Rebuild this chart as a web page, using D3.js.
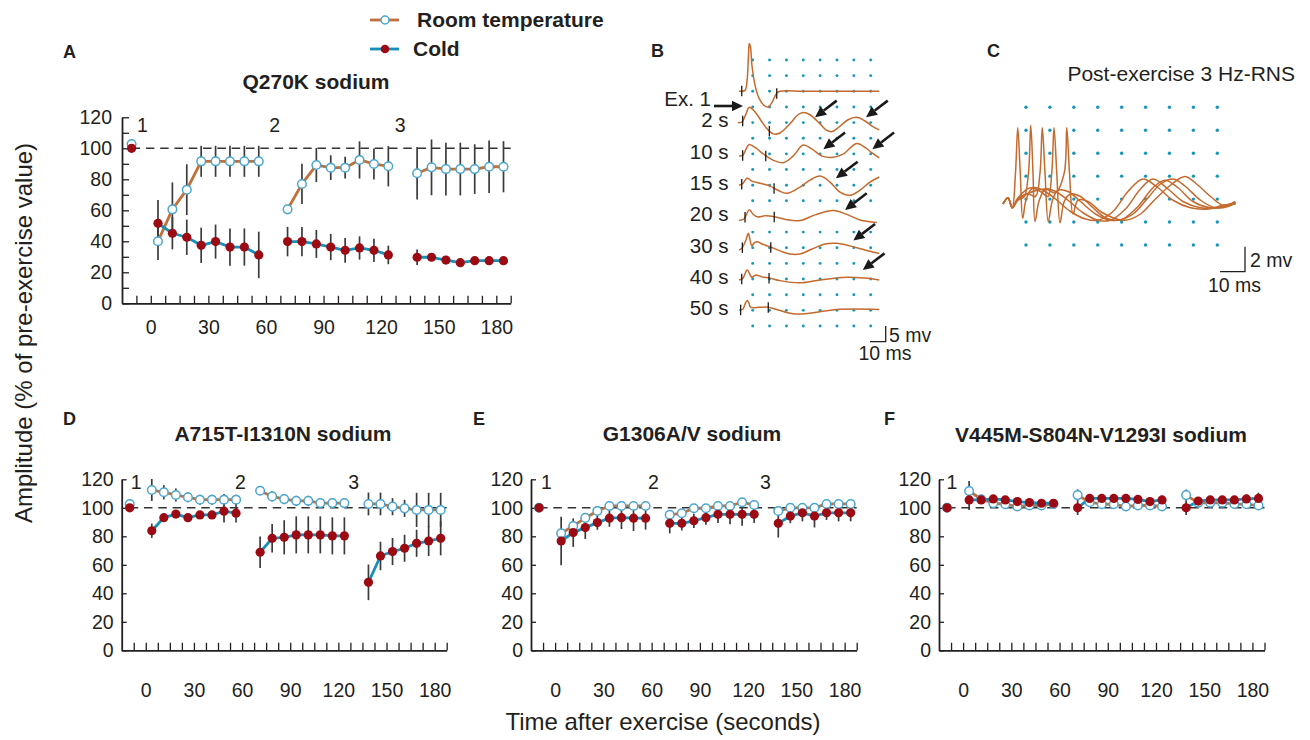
<!DOCTYPE html>
<html>
<head>
<meta charset="utf-8">
<script src="https://cdn.jsdelivr.net/npm/d3@7"></script>
<style>
  body { margin: 0; background: #fff; }
  svg { display: block; }
</style>
</head>
<body>
<svg id="fig" width="1310" height="740"></svg>
<script>
// ---------- time axis (seconds after exercise) ----------
const preTime = -10;
const segTimes1 = [3.75, 11.25, 18.75, 26.25, 33.75, 41.25, 48.75, 56.25];
const segTimes2 = [71.25, 78.75, 86.25, 93.75, 101.25, 108.75, 116.25, 123.75];
const segTimes3 = [138.75, 146.25, 153.75, 161.25, 168.75, 176.25, 183.75];
const xTickLabels = [0, 30, 60, 90, 120, 150, 180];
const xMinorTicks = [-7.5, 0, 7.5, 15, 22.5, 30, 37.5, 45, 52.5, 60, 67.5, 75, 82.5, 90, 97.5,
                     105, 112.5, 120, 127.5, 135, 142.5, 150, 157.5, 165, 172.5, 180, 187.5];
const yTickLabels = [0, 20, 40, 60, 80, 100, 120];
const segmentNames = ["1", "2", "3"];

// ---------- amplitude (% of pre-exercise): pre, exercise 1, 2, 3 ----------
const q270kRoomMean = [102.8, 40.0, 60.6, 73.3, 91.6, 91.6, 91.6, 91.6, 91.6, 60.6, 77.0, 89.2, 87.5, 87.5, 92.5, 89.9, 88.4, 83.9, 87.7, 86.6, 86.6, 86.6, 88.1, 88.1];
const q270kRoomSD   = [0, 12, 17.4, 16.4, 10, 10, 10, 10, 10, 1, 13, 11, 8, 7, 12, 10, 13, 17, 18, 17, 17, 16, 17, 16.5];
const q270kColdMean = [100, 51.6, 45.2, 42.6, 37.4, 39.8, 36.3, 36.3, 31.2, 39.8, 39.8, 38.3, 36.3, 34.2, 35.7, 34.2, 31.2, 29.7, 29.7, 27.9, 26.2, 27.5, 27.5, 27.5];
const q270kColdSD   = [0, 15, 10.4, 11.4, 11.4, 11, 12, 12, 15, 9.5, 9.5, 9, 8.5, 8, 7.5, 7.5, 6, 5, 1, 1, 1, 1, 1, 1];

const a715tRoomMean = [102.7, 112.5, 110.9, 109.0, 107.4, 105.7, 105.7, 105.7, 105.7, 112.0, 108.0, 106.1, 104.9, 104.9, 103.3, 103.3, 103.3, 102.7, 102.7, 100.8, 99.6, 98.5, 98.5, 98.5];
const a715tRoomSD   = [0, 7.7, 5, 4.5, 3.5, 3.5, 3.5, 4, 3.5, 3, 3.5, 3.5, 3.5, 3.5, 3.5, 3.5, 3.5, 8, 8, 6, 6, 12, 12, 12];
const a715tColdMean = [100, 83.9, 93.1, 95.6, 93.1, 95.0, 95.0, 97.6, 96.2, 68.8, 78.6, 79.3, 81.0, 81.0, 81.0, 80.3, 80.3, 47.7, 66.2, 69.3, 71.6, 75.1, 76.7, 78.6];
const a715tColdSD   = [0, 5, 3, 2.5, 2, 2.5, 2.5, 8, 6.5, 11, 10, 12, 13, 13, 13, 13, 13, 12.5, 10, 9.5, 9.5, 9.5, 10.5, 12];

const g1306RoomMean = [100, 82.1, 87.2, 92.9, 97.8, 101.3, 101.3, 101.3, 101.3, 95.1, 96.2, 99.7, 99.7, 101.3, 101.3, 103.9, 102.0, 97.8, 100.0, 100.0, 100.0, 102.7, 102.7, 102.7];
const g1306RoomSD   = [0, 3, 3, 3, 3, 2, 2, 2, 2, 3, 3, 2, 2, 2, 2, 2, 2, 2, 2, 2, 2, 2, 2, 2];
const g1306ColdMean = [100, 76.7, 82.6, 86.1, 89.6, 92.7, 93.1, 92.7, 92.7, 89.1, 89.1, 90.9, 93.1, 95.4, 95.4, 95.4, 95.4, 89.1, 94.2, 96.5, 94.2, 96.5, 96.5, 96.5];
const g1306ColdSD   = [0, 17, 10, 8, 5, 6, 8, 9, 8, 7, 5, 5, 5, 6, 7, 8, 6, 10, 5, 6, 8, 5, 6, 6];

const v445mRoomMean = [100, 111.8, 106.0, 103.2, 102.5, 100.9, 101.6, 101.6, 102.7, 108.9, 103.9, 102.5, 102.5, 100.9, 101.6, 101.6, 100.9, 108.9, 103.5, 103.5, 103.5, 102.7, 102.5, 101.6];
const v445mRoomSD   = [0, 7, 2, 2, 2, 2, 2, 2, 2, 4, 2, 2, 2, 2, 2, 2, 2, 4, 2, 2, 2, 2, 2, 2];
const v445mColdMean = [100, 105.5, 105.5, 106.2, 105.5, 104.4, 103.7, 103.2, 103.2, 100.0, 106.6, 106.6, 106.6, 106.6, 105.9, 104.4, 105.5, 100.0, 104.7, 105.5, 105.5, 105.5, 106.2, 106.6];
const v445mColdSD   = [0, 7, 2, 2, 2, 2, 2, 2, 2, 5, 2, 2, 2, 2, 2, 2, 2, 5, 2, 2, 2, 2, 3, 4];

// ---------- panel B: CMAP traces after exercise, [ms, mV] ----------
const bTraceLabels = ["Ex. 1", "2 s", "10 s", "15 s", "20 s", "30 s", "40 s", "50 s"];
const traceEx1 = [[-0.6,0],[3.2,0.3],[4.5,3.5],[5.4,11.5],[5.9,15.2],[6.7,14.0],[7.6,8.3],[9.6,1.9],[12.1,-2.2],[15.3,-4.5],[18.0,-5.0],[20.4,-3.5],[23.4,-0.6],[25.5,0],[40,0],[60,0],[88.7,0]];
const trace2s  = [[-1.3,0],[1.3,0.2],[3.8,2.8],[5.9,4.9],[9.6,3.4],[14,0.2],[17.8,-2.3],[21.2,-3.6],[25.5,-3.3],[31.8,-0.4],[36.9,2.5],[40.3,3.2],[44.6,2.5],[51,-0.4],[54.8,-2.3],[58.4,-2.9],[62.4,-1.7],[68.8,0.9],[74.3,1.7],[79.6,0.5],[84.1,-1.1],[88.7,-2.3]];
const trace10s = [[-0.6,-0.7],[1.9,-0.4],[3.8,1.5],[5.9,3.0],[10.2,1.8],[15.9,-0.4],[21,-2.0],[27.6,-2.8],[33.8,-0.7],[40.3,2.8],[45.9,1.5],[52.2,-0.7],[59.2,-1.1],[65.6,-0.1],[74.3,3.3],[80.3,1.8],[84.1,0.3],[88.7,-1.3]];
const trace15s = [[-0.6,0],[1.9,0.6],[4.6,2.3],[7.6,1.3],[12.7,0.6],[19.1,-0.3],[24.2,-1.6],[29.7,-2.6],[38.2,-0.6],[44.6,1.6],[51,2.9],[57.3,1],[63.7,-2.2],[70.1,-3.2],[76.4,-1.6],[82.8,1],[88.7,2.6]];
const trace20s = [[-0.6,-1.3],[2.5,-0.8],[5.9,2.1],[8.3,0.8],[10.8,-0.1],[15.9,0.2],[21.2,0],[28.7,-0.9],[38.2,-1.3],[47.8,0.5],[59.4,1.9],[68.8,0.5],[76.4,-1.1],[87.1,-1.9]];
const trace30s = [[-0.6,-0.7],[1.3,-0.1],[3.8,2.5],[5.3,4.6],[6.4,2.5],[7.5,0.6],[8.9,1.5],[11,1.9],[14,1.2],[19.1,0.3],[25.5,-1.0],[31.8,-2.0],[38.2,-2.0],[45.9,-0.4],[54.1,1.2],[61.6,1.4],[70.1,0.6],[79.6,-0.7],[88.7,-1.8]];
const trace40s = [[-0.6,-0.3],[1.9,0.3],[4.6,2.9],[7.5,0.6],[10,1.3],[14,0.7],[19.1,0.3],[25.5,-0.5],[38.2,-1.2],[51,-0.3],[68,0.6],[79.6,0.3],[88.7,-0.3]];
const trace50s = [[-0.6,0.1],[1.9,0.4],[3.2,2.0],[4.6,3.1],[5.7,2.3],[6.7,1.0],[12.7,1.0],[18,1.0],[22.3,0.4],[31.8,-0.9],[38.2,-1.2],[47.8,-0.7],[61.6,0.3],[88.7,0.3]];
const bTraces = [traceEx1, trace2s, trace10s, trace15s, trace20s, trace30s, trace40s, trace50s];
// onset / offset cursors (ms)
const bCursors = [[1.1, 23.4], [1.7, 18.7], [1.7, 16.4], [1.1, 21.7], [3.2, 21.8], [1.5, 19.6], [1.1, 18.5], [0.4, 18]];
// late components pointed out by arrows: trace index, ms, mV
const bArrowTrace = [1, 1, 2, 2, 3, 4, 5, 6];
const bArrowMs    = [47.8, 80.3, 53.1, 84.3, 61.1, 66.9, 72.2, 78.2];
const bArrowMv    = [1.7, 1.7, 1.5, 1.5, 2.2, 2.1, 2.3, 2.9];

// ---------- panel C: superimposed responses during 3 Hz RNS, [ms, mV] ----------
const rnsTrace1 = [[0,0],[2,0.5],[3.7,-0.3],[5,2.5],[5.9,6.1],[6.9,2.5],[7.9,-1.15],[9.3,0.4],[12,1.3],[16,1.1],[21,0.4],[27,-0.6],[33,-1.2],[38,-1.3],[44,-0.6],[50,1.0],[56,2.0],[62,1.3],[68,0.3],[75,-0.3],[82,-0.4],[88,-0.1],[93,0]];
const rnsTrace2 = [[0,0],[2,0.5],[3.7,-0.3],[6,0.3],[8.5,0.6],[10.2,2.5],[11.1,6.3],[12,2.5],[12.8,-1.4],[14.5,0.3],[17,1.2],[21,1.0],[26,0.3],[32,-0.7],[38,-1.3],[43,-1.3],[49,-0.4],[55,1.2],[60,2.0],[66,1.2],[72,0.2],[79,-0.3],[86,-0.3],[93,0.1]];
const rnsTrace3 = [[0,0],[2,0.5],[3.7,-0.3],[6,0.4],[10,0.8],[13,0.6],[14.8,2.5],[15.7,6.1],[16.8,2.5],[18.1,-1.4],[19.8,0.3],[22,1.1],[26,1.0],[31,0.2],[37,-0.8],[43,-1.3],[48,-1.2],[54,-0.2],[60,1.3],[64.8,1.9],[70,1.3],[76,0.2],[83,-0.3],[89,-0.2],[93,0.1]];
const rnsTrace4 = [[0,0],[2,0.5],[3.7,-0.3],[6,0.5],[11,1.3],[15,1.0],[18,0.6],[19.5,2.5],[20.4,6.1],[21.5,2.5],[22.8,-1.5],[24.5,0.2],[27,0.8],[31,0.6],[36,-0.3],[41,-1.1],[46,-1.3],[52,-0.8],[58,0.5],[63,1.6],[68.1,2.0],[73,1.4],[79,0.3],[85,-0.3],[90,-0.2],[93,0.1]];
const rnsTrace5 = [[0,0],[2,0.5],[3.7,-0.3],[6,0.4],[12,1.0],[17,1.2],[21,0.9],[24.5,2.5],[25.5,6.1],[26.6,2.5],[28,-0.8],[30,0.3],[34,0.2],[39,-0.6],[44,-1.1],[49,-1.3],[55,-0.8],[61,0.4],[67,1.5],[72.8,2.2],[78,1.5],[83,0.6],[88,-0.1],[93,0.2]];
const rnsTraces = [rnsTrace1, rnsTrace2, rnsTrace3, rnsTrace4, rnsTrace5];

// ---------- styling ----------
const FONT = '"Liberation Sans", Arial, Helvetica, sans-serif';
const INK = "#231f20";
const ROOM_LINE = "#c0703a";
const ROOM_MARK = "#4aa6cf";
const COLD_LINE = "#1690bb";
const COLD_MARK = "#9c0b13";
const ERR = "#3b3b3b";
const TRACE = "#c46a2d";
const GRID = "#1797b9";

const svg = d3.select("#fig").attr("font-family", FONT);

const allTimes = [preTime, ...segTimes1, ...segTimes2, ...segTimes3];
const segOf = [0, ...segTimes1.map(() => 1), ...segTimes2.map(() => 2), ...segTimes3.map(() => 3)];

function styleAxis(sel, fs) {
  sel.attr("font-family", FONT).attr("font-size", fs);
  sel.selectAll("text").attr("fill", INK);
  sel.selectAll(".tick line").attr("stroke", INK).attr("stroke-width", 1.3);
  sel.select(".domain").attr("stroke", INK).attr("stroke-width", 1.8);
}

function drawPanel(p) {
  const x = d3.scaleLinear().domain([-15, 187.5]).range([p.x0, p.x1]);
  const y = d3.scaleLinear().domain([0, 120]).range([p.yBase, p.yTop]);
  const g = svg.append("g");

  // axes
  g.append("g").attr("transform", `translate(0,${p.yBase})`)
    .call(d3.axisBottom(x).tickValues(xMinorTicks).tickSize(-p.xTickLen).tickSizeOuter(0).tickFormat(""))
    .call(s => styleAxis(s, 19));
  g.append("g").attr("transform", `translate(0,${p.yBase})`)
    .call(d3.axisBottom(x).tickValues(xTickLabels).tickSize(0).tickPadding(p.xPad))
    .call(s => { styleAxis(s, 19.5); s.select(".domain").remove(); });
  g.append("g").attr("transform", `translate(${p.x0},0)`)
    .call(d3.axisLeft(y).tickValues(p.yTicks).tickSize(-p.yTickLen).tickSizeOuter(0)
      .tickPadding(p.yPad).tickFormat(d => yTickLabels.includes(d) ? d : ""))
    .call(s => styleAxis(s, 19.5));

  // reference line at 100 %
  g.append("line")
    .attr("x1", x(preTime)).attr("x2", x(187.5))
    .attr("y1", y(100)).attr("y2", y(100))
    .attr("stroke", "#333").attr("stroke-width", 1.5).attr("stroke-dasharray", "8.5,5.8");

  const series = [
    { mean: p.roomMean, sd: p.roomSD, line: ROOM_LINE },
    { mean: p.coldMean, sd: p.coldSD, line: COLD_LINE }
  ];
  const pts = series.map(s => allTimes.map((t, i) => ({ t, v: s.mean[i], e: s.sd[i], seg: segOf[i] })));

  // error bars
  pts.forEach(arr => {
    g.append("g").selectAll("line").data(arr.filter(d => d.e > 0)).join("line")
      .attr("x1", d => x(d.t)).attr("x2", d => x(d.t))
      .attr("y1", d => y(d.v + d.e)).attr("y2", d => y(d.v - d.e))
      .attr("stroke", ERR).attr("stroke-width", 1.7);
  });

  // connecting lines within each exercise block
  const lineGen = d3.line().x(d => x(d.t)).y(d => y(d.v));
  pts.forEach((arr, k) => {
    [1, 2, 3].forEach(sg => {
      g.append("path").datum(arr.filter(d => d.seg === sg))
        .attr("d", lineGen).attr("fill", "none")
        .attr("stroke", series[k].line).attr("stroke-width", 2.8)
        .attr("stroke-linejoin", "round");
    });
  });

  // markers
  g.append("g").selectAll("circle").data(pts[0]).join("circle")
    .attr("cx", d => x(d.t)).attr("cy", d => y(d.v)).attr("r", 4.3)
    .attr("fill", "#fff").attr("stroke", ROOM_MARK).attr("stroke-width", 1.5);
  g.append("g").selectAll("circle").data(pts[1]).join("circle")
    .attr("cx", d => x(d.t)).attr("cy", d => y(d.v)).attr("r", 4.6)
    .attr("fill", COLD_MARK);

  // exercise block numbers
  g.append("g").selectAll("text").data(p.segLabels).join("text")
    .attr("x", d => x(d[1])).attr("y", d => y(d[2]))
    .attr("text-anchor", "middle").attr("font-size", 19.5).attr("fill", INK)
    .text(d => d[0]);

  // title and panel letter
  g.append("text").attr("x", p.titleX).attr("y", p.titleY).attr("text-anchor", "middle")
    .attr("font-size", 21).attr("font-weight", "bold").attr("fill", INK).text(p.title);
  g.append("text").attr("x", p.letterX).attr("y", p.letterY)
    .attr("font-size", 18).attr("font-weight", "bold").attr("fill", INK).text(p.letter);
}

drawPanel({
  x0: 122, x1: 510.7, yBase: 303.3, yTop: 117.3,
  xTickLen: 7.5, yTickLen: 7, xPad: 16.5, yPad: 10,
  yTicks: [0, 10, 20, 30, 40, 50, 60, 70, 80, 90, 100, 110, 120],
  roomMean: q270kRoomMean, roomSD: q270kRoomSD, coldMean: q270kColdMean, coldSD: q270kColdSD,
  segLabels: [[segmentNames[0], -4.3, 110.2], [segmentNames[1], 64.6, 110.6], [segmentNames[2], 129.9, 110.6]],
  title: "Q270K sodium", titleX: 316, titleY: 88.5, letter: "A", letterX: 63, letterY: 57.5
});
drawPanel({
  x0: 121.7, x1: 446.7, yBase: 650.3, yTop: 479.3,
  xTickLen: 7.5, yTickLen: 5, xPad: 33, yPad: 8,
  yTicks: [0, 20, 40, 60, 80, 100, 120],
  roomMean: a715tRoomMean, roomSD: a715tRoomSD, coldMean: a715tColdMean, coldSD: a715tColdSD,
  segLabels: [[segmentNames[0], -6, 113], [segmentNames[1], 59, 113], [segmentNames[2], 129.6, 113]],
  title: "A715T-I1310N sodium", titleX: 283, titleY: 441, letter: "D", letterX: 63, letterY: 425
});
drawPanel({
  x0: 531, x1: 856.7, yBase: 650.3, yTop: 479.3,
  xTickLen: 7.5, yTickLen: 5, xPad: 33, yPad: 8,
  yTicks: [0, 20, 40, 60, 80, 100, 120],
  roomMean: g1306RoomMean, roomSD: g1306RoomSD, coldMean: g1306ColdMean, coldSD: g1306ColdSD,
  segLabels: [[segmentNames[0], -5.4, 113], [segmentNames[1], 61.1, 113], [segmentNames[2], 130.8, 113]],
  title: "G1306A/V sodium", titleX: 692, titleY: 441, letter: "E", letterX: 473, letterY: 425
});
drawPanel({
  x0: 939, x1: 1264.5, yBase: 650.3, yTop: 479.3,
  xTickLen: 7.5, yTickLen: 5, xPad: 33, yPad: 8,
  yTicks: [0, 20, 40, 60, 80, 100, 120],
  roomMean: v445mRoomMean, roomSD: v445mRoomSD, coldMean: v445mColdMean, coldSD: v445mColdSD,
  segLabels: [[segmentNames[0], -6.9, 113]],
  title: "V445M-S804N-V1293I sodium", titleX: 1101, titleY: 442, letter: "F", letterX: 884, letterY: 425
});

// ---------- legend ----------
const legendRows = [
  { label: "Room temperature", line: ROOM_LINE, y: 20, tx: 417, room: true },
  { label: "Cold", line: COLD_LINE, y: 49, tx: 413, room: false }
];
const lg = svg.append("g");
legendRows.forEach(r => {
  lg.append("line").attr("x1", 370).attr("x2", 399).attr("y1", r.y).attr("y2", r.y)
    .attr("stroke", r.line).attr("stroke-width", 2.8);
  if (r.room) {
    lg.append("circle").attr("cx", 385).attr("cy", r.y).attr("r", 4)
      .attr("fill", "#fff").attr("stroke", ROOM_MARK).attr("stroke-width", 1.5);
  } else {
    lg.append("circle").attr("cx", 385).attr("cy", r.y).attr("r", 4.3).attr("fill", COLD_MARK);
  }
  lg.append("text").attr("x", r.tx).attr("y", r.y + 6.8).attr("font-size", 21)
    .attr("font-weight", "bold").attr("fill", INK).text(r.label);
});

// ---------- shared axis titles ----------
svg.append("text").attr("transform", "translate(31.5,333) rotate(-90)")
  .attr("text-anchor", "middle").attr("font-size", 24).attr("fill", INK)
  .text("Amplitude (% of pre-exercise value)");
svg.append("text").attr("x", 663).attr("y", 730).attr("text-anchor", "middle")
  .attr("font-size", 24).attr("fill", INK).text("Time after exercise (seconds)");

// ---------- panel B ----------
(function () {
  const g = svg.append("g");
  const xB = d3.scaleLinear().domain([0, 10]).range([740, 755.7]);   // 10 ms = 15.7 px
  const mvB = d3.scaleLinear().domain([0, 5]).range([0, 15.7]);      // 5 mV = 15.7 px
  const rowB = d3.scaleLinear().domain([0, 17]).range([60, 326]);
  const colB = d3.scaleLinear().domain([0, 7]).range([752.7, 870.7]);
  const rows = d3.range(18).filter(r => r !== 10);
  const cols = d3.range(8);
  g.append("g").selectAll("circle").data(d3.cross(rows, cols)).join("circle")
    .attr("cx", d => colB(d[1])).attr("cy", d => rowB(d[0])).attr("r", 1.45).attr("fill", GRID);

  const base = i => rowB(2 + 2 * i);
  const interp = (tr, ms) => {
    for (let k = 1; k < tr.length; k++) {
      if (tr[k][0] >= ms) {
        const a = tr[k - 1], b = tr[k], f = (ms - a[0]) / (b[0] - a[0]);
        return a[1] + f * (b[1] - a[1]);
      }
    }
    return tr[tr.length - 1][1];
  };

  bTraces.forEach((tr, i) => {
    const line = d3.line().x(d => xB(d[0])).y(d => base(i) - mvB(d[1])).curve(d3.curveCatmullRom.alpha(0.5));
    g.append("path").datum(tr).attr("d", line).attr("fill", "none")
      .attr("stroke", TRACE).attr("stroke-width", 1.5);
    g.append("g").selectAll("line").data(bCursors[i]).join("line")
      .attr("x1", d => xB(d)).attr("x2", d => xB(d))
      .attr("y1", d => base(i) - mvB(interp(tr, d)) - 5)
      .attr("y2", d => base(i) - mvB(interp(tr, d)) + 5.5)
      .attr("stroke", "#1a1a1a").attr("stroke-width", 1.3);
  });

  // row labels
  g.append("g").selectAll("text").data(bTraceLabels).join("text")
    .attr("x", (d, i) => i === 0 ? 711 : 728.5)
    .attr("y", (d, i) => i === 0 ? base(0) + 14.7 : base(i) + 4.8)
    .attr("text-anchor", "end").attr("font-size", 20.5).attr("fill", INK).text(d => d);

  // arrows
  const drawArrow = (x1, y1, x2, y2) => {
    const ang = Math.atan2(y2 - y1, x2 - x1);
    const hl = 11, hw = 5.2;
    const bx = x2 - hl * Math.cos(ang), by = y2 - hl * Math.sin(ang);
    g.append("line").attr("x1", x1).attr("y1", y1).attr("x2", bx).attr("y2", by)
      .attr("stroke", "#1a1a1a").attr("stroke-width", 2.6);
    const px = -Math.sin(ang) * hw, py = Math.cos(ang) * hw;
    g.append("path").attr("d", `M${x2},${y2}L${bx + px},${by + py}L${bx - px},${by - py}Z`)
      .attr("fill", "#1a1a1a");
  };
  drawArrow(714, base(0) + 14.7, xB(1.9), base(0) + 14.7);
  bArrowTrace.forEach((ti, k) => {
    const tx = xB(bArrowMs[k]), ty = base(ti) - mvB(bArrowMv[k]);
    drawArrow(tx + 21.7, ty - 16.6, tx, ty);
  });

  // scale bar: 5 mV, 10 ms
  const sx = 885.7, sy = rowB(17) + mvB(5);
  g.append("path").attr("d", `M${sx - (xB(10) - xB(0))},${sy}H${sx}V${sy - mvB(5)}`)
    .attr("fill", "none").attr("stroke", INK).attr("stroke-width", 1.3);
  g.append("text").attr("x", 889).attr("y", 341.5).attr("font-size", 19.5).attr("fill", INK).text("5 mv");
  g.append("text").attr("x", 858.5).attr("y", 360).attr("font-size", 19.5).attr("fill", INK).text("10 ms");

  g.append("text").attr("x", 651).attr("y", 57).attr("font-size", 18).attr("font-weight", "bold")
    .attr("fill", INK).text("B");
})();

// ---------- panel C ----------
(function () {
  const g = svg.append("g");
  const xC = d3.scaleLinear().domain([0, 10]).range([1003, 1028]);   // 10 ms = 25 px
  const yC = d3.scaleLinear().domain([0, 2]).range([204, 179]);      // 2 mV = 25 px
  const rowC = d3.scaleLinear().domain([0, 6]).range([107.3, 245]);
  const colC = d3.scaleLinear().domain([0, 8]).range([1026, 1217.3]);
  g.append("g").selectAll("circle").data(d3.cross(d3.range(7), d3.range(9))).join("circle")
    .attr("cx", d => colC(d[1])).attr("cy", d => rowC(d[0])).attr("r", 1.7).attr("fill", GRID);

  const line = d3.line().x(d => xC(d[0])).y(d => yC(d[1])).curve(d3.curveCatmullRom.alpha(0.5));
  g.append("g").selectAll("path").data(rnsTraces).join("path")
    .attr("d", line).attr("fill", "none").attr("stroke", TRACE).attr("stroke-width", 1.5);

  const sx = 1245, sy = 271.7;
  g.append("path").attr("d", `M${sx - (xC(10) - xC(0))},${sy}H${sx}V${sy - (yC(0) - yC(2))}`)
    .attr("fill", "none").attr("stroke", INK).attr("stroke-width", 1.3);
  g.append("text").attr("x", 1250).attr("y", 267).attr("font-size", 19.5).attr("fill", INK).text("2 mv");
  g.append("text").attr("x", 1208).attr("y", 291.5).attr("font-size", 19.5).attr("fill", INK).text("10 ms");

  g.append("text").attr("x", 1295).attr("y", 81).attr("text-anchor", "end").attr("font-size", 21)
    .attr("fill", INK).text("Post-exercise 3 Hz-RNS");
  g.append("text").attr("x", 987).attr("y", 57).attr("font-size", 18).attr("font-weight", "bold")
    .attr("fill", INK).text("C");
})();
</script>
</body>
</html>
